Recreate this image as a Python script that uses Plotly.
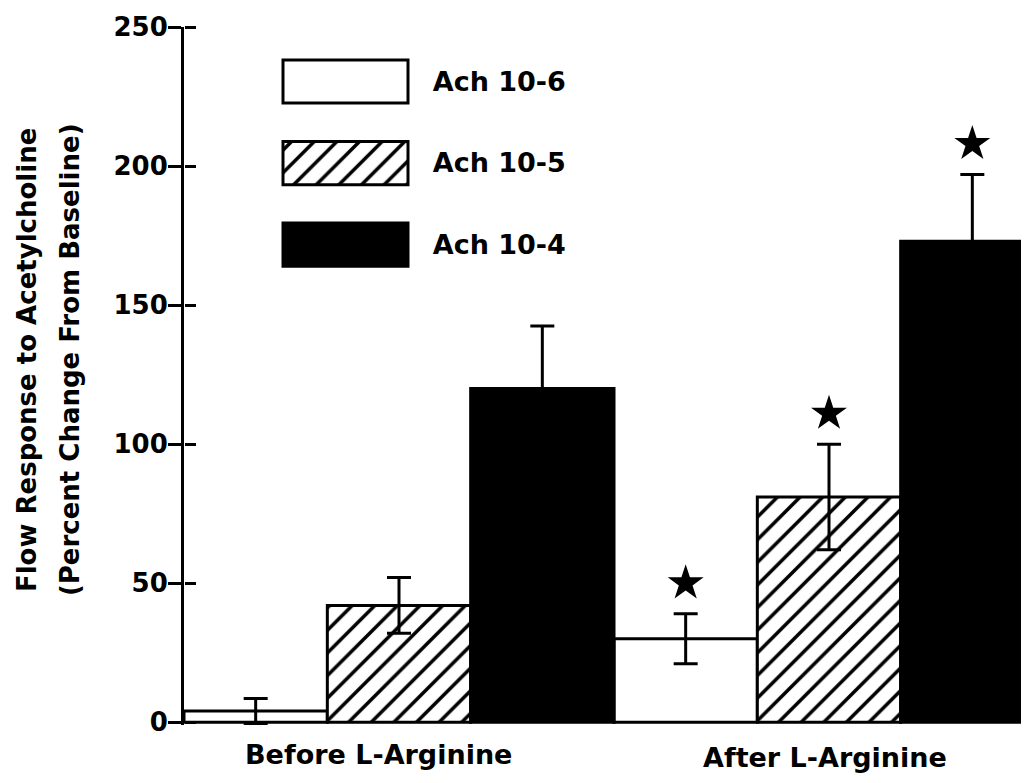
import plotly.graph_objects as go

# ---------------- data ----------------
groups = ["Before L-Arginine", "After L-Arginine"]
series_names = ["Ach 10-6", "Ach 10-5", "Ach 10-4"]

ach_10_6 = [4, 30]
ach_10_5 = [42, 81]
ach_10_4 = [120, 173]

err_10_6 = [4.5, 9]
err_10_5 = [10, 19]
err_10_4 = [22.5, 24]

star_10_6 = [False, True]
star_10_5 = [False, True]
star_10_4 = [False, True]

y_ticks = [0, 50, 100, 150, 200, 250]
y_title_1 = "Flow Response to Acetylcholine"
y_title_2 = "(Percent Change From Baseline)"

# ---------------- styling ----------------
FONT = "DejaVu Sans"
OFF = 8  # default body margin of the page
values = [ach_10_6, ach_10_5, ach_10_4]
errors = [err_10_6, err_10_5, err_10_4]
stars = [star_10_6, star_10_5, star_10_4]
hatch = dict(shape="/", fgcolor="black", bgcolor="white", size=16, solidity=0.22, fgopacity=1)
fills = [
    dict(color="white"),
    dict(color="white", pattern=hatch),
    dict(color="black"),
]
bar_w = 1 / 3

W, H = 1029 - OFF, 783 - 2 * OFF
L, R, T = 184 - OFF, 0, 27 - OFF
y_lo, y_hi = -1, 250
px_per_unit = 2.78
plot_bottom_page = 27 + (y_hi - y_lo) * px_per_unit
B = H - (plot_bottom_page - OFF)
pw = W - L - R
ph = H - T - B

def px_to_paper_x(px):
    return (px - OFF - L) / pw

def px_to_paper_y(py):
    return (H - B - (py - OFF)) / ph

fig = go.Figure()

star_x, star_y = [], []
for k, (name, vals, errs, stk, fill) in enumerate(zip(series_names, values, errors, stars, fills)):
    xs = [g + (k - 1) * bar_w for g in range(len(groups))]
    marker = dict(line=dict(color="black", width=3), **fill)
    fig.add_trace(go.Bar(
        x=xs, y=vals, width=bar_w, name=name, marker=marker,
        error_y=dict(type="data", array=errs, visible=True, color="black", thickness=3, width=12),
        showlegend=False,
    ))
    for xv, v, e, s in zip(xs, vals, errs, stk):
        if s:
            star_x.append(xv)
            star_y.append(v + e + 11)

# significance stars (on the overlay axis that carries the inner halves of the ticks)
fig.add_trace(go.Scatter(
    x=star_x, y=star_y, mode="markers", xaxis="x", yaxis="y2",
    marker=dict(symbol="star", size=27, color="black", line=dict(width=0)),
    showlegend=False, hoverinfo="skip", cliponaxis=False,
))

# legend inset drawn as horizontal bars
leg_pos = list(range(len(series_names)))
for k, (name, fill) in enumerate(zip(series_names, fills)):
    fig.add_trace(go.Bar(
        x=[1], y=[leg_pos[k]], orientation="h", width=0.53,
        marker=dict(line=dict(color="black", width=3), **fill),
        xaxis="x2", yaxis="y3", showlegend=False, hoverinfo="skip",
    ))

tickfont = dict(family=FONT, size=26, color="black", weight="bold")

fig.update_layout(
    width=W, height=H,
    margin=dict(l=L, r=R, t=T, b=B, pad=0),
    paper_bgcolor="white", plot_bgcolor="white",
    barmode="overlay",
    showlegend=False,
    xaxis=dict(range=[-0.5, -0.5 + pw / 430], showline=False, showgrid=False, zeroline=False,
               showticklabels=False, ticks=""),
    yaxis=dict(range=[y_lo, y_hi], tickvals=y_ticks, showgrid=False, zeroline=False,
               showline=True, linecolor="black", linewidth=3,
               ticks="outside", ticklen=13, tickwidth=3, tickcolor="black",
               tickfont=tickfont, ticklabelstandoff=-5),
    yaxis2=dict(range=[y_lo, y_hi], overlaying="y", side="right", anchor="free", position=0,
                automargin=False, tickvals=y_ticks,
                showticklabels=False, showgrid=False, zeroline=False, showline=False,
                ticks="outside", ticklen=11, tickwidth=3, tickcolor="black"),
    xaxis2=dict(domain=[px_to_paper_x(279.25), px_to_paper_x(411.75)], range=[-0.03, 1.03],
                anchor="y3", visible=False),
    yaxis3=dict(domain=[px_to_paper_y(285.25), px_to_paper_y(40.75)], range=[2.5, -0.5],
                anchor="x2", side="right", tickvals=leg_pos, ticktext=series_names,
                showgrid=False, zeroline=False, showline=False, ticks="",
                tickfont=dict(family=FONT, size=27, color="black", weight="bold"),
                ticklabelstandoff=20),
)

label_px = [378, 825]
label_py = [754, 757]
for txt, lx, ly in zip(groups, label_px, label_py):
    fig.add_annotation(text=txt, xref="paper", yref="paper",
                       x=px_to_paper_x(lx), y=px_to_paper_y(ly),
                       xanchor="center", yanchor="middle", showarrow=False,
                       font=dict(family=FONT, size=27, color="black", weight="bold"))

for txt, lx in zip([y_title_1, y_title_2], [27, 70]):
    fig.add_annotation(text=txt, xref="paper", yref="paper",
                       x=px_to_paper_x(lx), y=px_to_paper_y(360),
                       xanchor="center", yanchor="middle", textangle=-90, showarrow=False,
                       font=dict(family=FONT, size=26, color="black", weight="bold"))

fig.write_html("out.html")
